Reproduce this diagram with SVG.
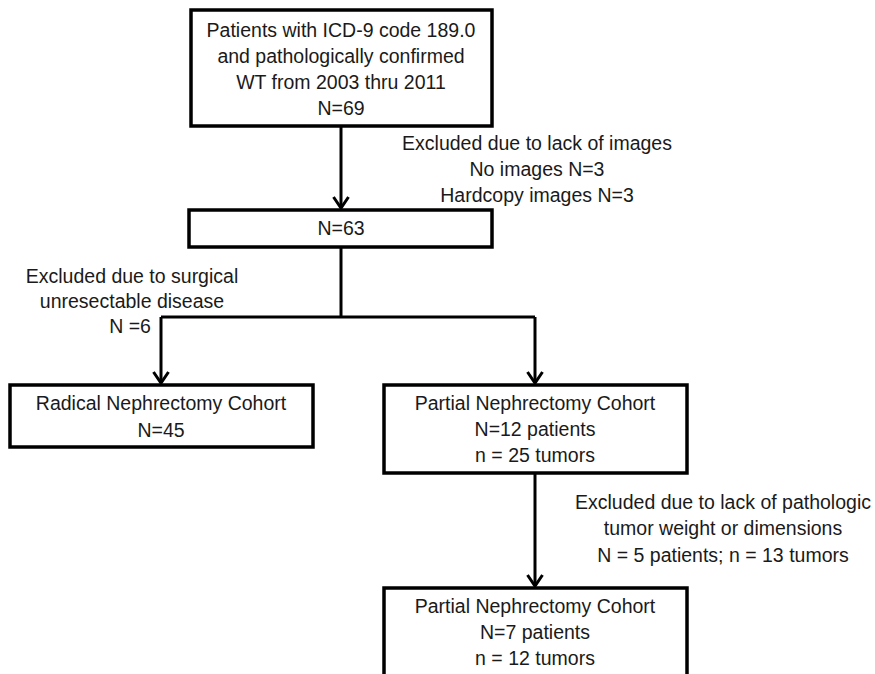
<svg xmlns="http://www.w3.org/2000/svg" width="875" height="674" viewBox="0 0 875 674">
<style>
.box{fill:#fff;stroke:#000;stroke-width:3.5}
.ln{fill:none;stroke:#000;stroke-width:3}
text{font-family:"Liberation Sans",Arial,sans-serif;font-size:19.5px;fill:#1a1a1a;text-anchor:middle}
</style>
<defs>
<marker id="ah" markerUnits="userSpaceOnUse" markerWidth="20" markerHeight="20" refX="15" refY="10" orient="auto" viewBox="0 0 20 20">
<path d="M4 2.5 L15 10 L4 17.5" fill="none" stroke="#000" stroke-width="3"/>
</marker>
</defs>
<rect width="875" height="674" fill="#fff"/>
<g id="connectors">
<path class="ln" d="M341 126 V208" marker-end="url(#ah)"/>
<path class="ln" d="M341 247 V317"/>
<path class="ln" d="M161 317 H535"/>
<path class="ln" d="M161 317 V383" marker-end="url(#ah)"/>
<path class="ln" d="M535 317 V383" marker-end="url(#ah)"/>
<path class="ln" d="M535 473 V586" marker-end="url(#ah)"/>
</g>
<g id="n1">
<rect class="box" x="191" y="10" width="301" height="116"/>
<text x="341" y="37">Patients with ICD-9 code 189.0</text>
<text x="341" y="63">and pathologically confirmed</text>
<text x="341" y="89">WT from 2003 thru 2011</text>
<text x="341" y="115">N=69</text>
</g>
<g id="ex1">
<text x="537" y="150">Excluded due to lack of images</text>
<text x="537" y="176">No images N=3</text>
<text x="537" y="202">Hardcopy images N=3</text>
</g>
<g id="n2">
<rect class="box" x="189" y="210" width="303" height="37"/>
<text x="341" y="235">N=63</text>
</g>
<g id="ex2">
<text x="132" y="283">Excluded due to surgical</text>
<text x="132" y="308">unresectable disease</text>
<text x="130" y="333">N =6</text>
</g>
<g id="n3">
<rect class="box" x="10" y="385" width="303" height="62"/>
<text x="161" y="410">Radical Nephrectomy Cohort</text>
<text x="161" y="437">N=45</text>
</g>
<g id="n4">
<rect class="box" x="384" y="385" width="303" height="88"/>
<text x="535" y="410">Partial Nephrectomy Cohort</text>
<text x="535" y="436">N=12 patients</text>
<text x="535" y="462">n = 25 tumors</text>
</g>
<g id="ex3">
<text x="723" y="509">Excluded due to lack of pathologic</text>
<text x="723" y="535">tumor weight or dimensions</text>
<text x="723" y="562">N = 5 patients; n = 13 tumors</text>
</g>
<g id="n5">
<rect class="box" x="384" y="588" width="303" height="100"/>
<text x="535" y="613">Partial Nephrectomy Cohort</text>
<text x="535" y="639">N=7 patients</text>
<text x="535" y="665">n = 12 tumors</text>
</g>
</svg>
